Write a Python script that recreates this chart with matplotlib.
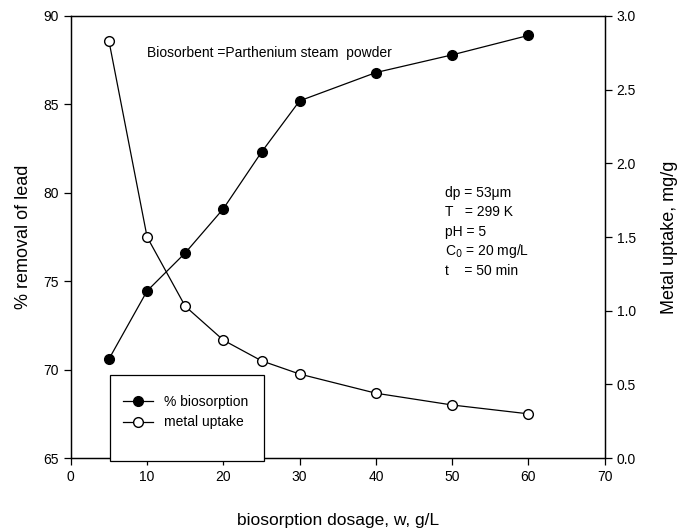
import matplotlib
matplotlib.use("Agg")
import matplotlib.pyplot as plt
import matplotlib.patches as mpatches

plt.rcParams['font.family'] = ['Liberation Sans', 'DejaVu Sans']

# dosis de biosorbente (g/L)
dosage = [5, 10, 15, 20, 25, 30, 40, 50, 60]
# % eliminacion de plomo (eje izquierdo)
removal = [70.6, 74.45, 76.6, 79.1, 82.3, 85.2, 86.8, 87.8, 88.9]
# captacion de metal mg/g (eje derecho)
uptake = [2.83, 1.50, 1.03, 0.80, 0.66, 0.57, 0.44, 0.36, 0.30]

fig = plt.figure(figsize=(6.81, 5.32), dpi=100)
ax = fig.add_axes([0.104, 0.139, 0.784, 0.831])
ax2 = ax.twinx()

l1, = ax.plot(dosage, removal, 'k-', lw=0.9, marker='o', markersize=7,
              markerfacecolor='black', markeredgecolor='black', label='% biosorption')
l2, = ax2.plot(dosage, uptake, 'k-', lw=0.9, marker='o', markersize=7,
               markerfacecolor='white', markeredgecolor='black', label='metal uptake')

ax.set_xlim(0, 70)
ax.set_ylim(65, 90)
ax2.set_ylim(0, 3.0)
ax.set_xticks(range(0, 71, 10))
ax.set_yticks(range(65, 91, 5))
ax2.set_yticks([0.0, 0.5, 1.0, 1.5, 2.0, 2.5, 3.0])
ax2.set_yticklabels(['0.0', '0.5', '1.0', '1.5', '2.0', '2.5', '3.0'])

for a in (ax, ax2):
    a.tick_params(direction='out', length=5, width=0.9, labelsize=10)
    for s in a.spines.values():
        s.set_linewidth(0.9)

ax.set_xlabel('biosorption dosage, w, g/L', fontsize=12.5, labelpad=21)
ax.set_ylabel('% removal of lead', fontsize=13, labelpad=8)
ax2.set_ylabel('Metal uptake, mg/g', fontsize=13, labelpad=18)

ax.text(10, 87.9, 'Biosorbent =Parthenium steam  powder', fontsize=10, va='center')

params = ['dp = 53\u03bcm', 'T   = 299 K', 'pH = 5', 'C$_0$ = 20 mg/L', 't    = 50 min']
for i, p in enumerate(params):
    ax.text(49.0, 80.0 - i * 1.1, p, fontsize=10, va='center')

# cuadro de la leyenda, se sale un poco del eje por abajo
box = mpatches.Rectangle((110 / 681, 1 - 461 / 532), 154 / 681, 86 / 532,
                         transform=fig.transFigure, fill=True, facecolor='white',
                         edgecolor='black', lw=0.9, zorder=5)
fig.patches.append(box)
leg = fig.legend([l1, l2], ['% biosorption', 'metal uptake'], loc='upper left',
                 bbox_to_anchor=(110 / 681, 1 - 382 / 532), frameon=False,
                 fontsize=10, handlelength=2.2, labelspacing=0.5)
leg.set_zorder(6)

fig.savefig('out.png', dpi=100)
